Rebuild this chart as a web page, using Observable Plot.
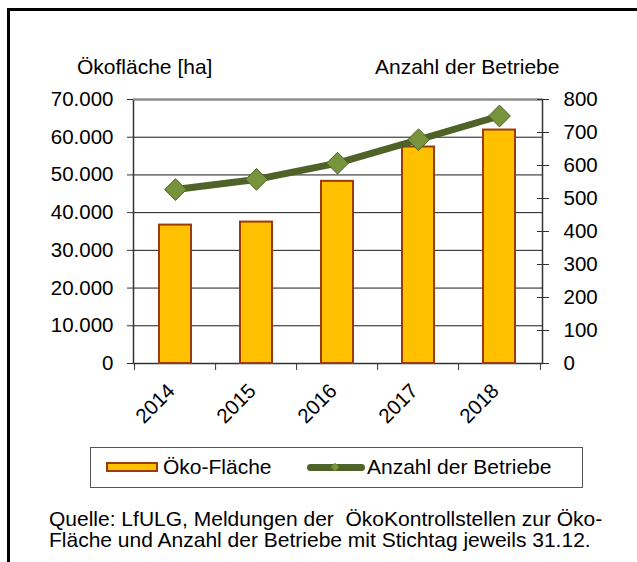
<!DOCTYPE html>
<html>
<head>
<meta charset="utf-8">
<script src="https://cdn.jsdelivr.net/npm/d3@7"></script>
<script src="https://cdn.jsdelivr.net/npm/@observablehq/plot@0.6"></script>
<style>
  html, body { margin: 0; padding: 0; background: #fff; }
  body { font-family: "Liberation Sans", Arial, sans-serif; }
  #wrap { position: relative; width: 637px; height: 562px; overflow: hidden; background: #fff; }
  #frame { position: absolute; left: 7px; top: 8px; width: 700px; height: 700px;
           border-top: 3px solid #000; border-left: 3px solid #000; }
  #chart { position: absolute; left: 0; top: 0; }
  .t { position: absolute; font-size: 21px; line-height: 21px; color: #000; white-space: pre; }
  #legend { position: absolute; left: 90px; top: 447px; width: 491px; height: 39px; border: 1px solid #555; }
  .sw-bar { position: absolute; left: 106px; top: 462px; width: 48px; height: 6px;
            background: #FFC000; border: 2px solid #9C3B0A; }
  .sw-line { position: absolute; left: 307px; top: 464px; width: 58px; height: 7px;
             background: #4F6228; border-radius: 3.5px; }
  .sw-dot { position: absolute; left: 332px; top: 464px; width: 6px; height: 6px;
            background: #77933C; transform: rotate(45deg); }
</style>
</head>
<body>
<div id="wrap">
  <div id="frame"></div>
  <div id="chart"></div>
  <div class="t" id="tLeft" style="left:77px; top:56px;"></div>
  <div class="t" id="tRight" style="left:375px; top:56px;"></div>
  <div id="legend"></div>
  <div class="sw-bar"></div>
  <div class="t" id="lg1" style="left:163px; top:456px;"></div>
  <div class="sw-line"></div>
  <div class="sw-dot"></div>
  <div class="t" id="lg2" style="left:367px; top:456px;"></div>
  <div class="t" id="cap" style="left:49px; top:508px;"></div>
</div>
<script>
// ---- data ----
const years = ["2014", "2015", "2016", "2017", "2018"];
const oekoFlaeche = [36700, 37500, 48300, 57400, 61900];   // ha
const anzahlBetriebe = [527, 558, 607, 678, 750];
const leftTicks = [0, 10000, 20000, 30000, 40000, 50000, 60000, 70000];
const rightTicks = [0, 100, 200, 300, 400, 500, 600, 700, 800];
const titleLeft = "Ökofläche [ha]";
const titleRight = "Anzahl der Betriebe";
const legendLabels = ["Öko-Fläche", "Anzahl der Betriebe"];
const captionLines = [
  "Quelle: LfULG, Meldungen der  ÖkoKontrollstellen zur Öko-",
  "Fläche und Anzahl der Betriebe mit Stichtag jeweils 31.12."
];

// ---- build ----
const leftMax = leftTicks[leftTicks.length - 1];
const rightMax = rightTicks[rightTicks.length - 1];
const k = leftMax / rightMax; // maps right-axis values onto the left y scale

const data = years.map((year, i) => ({year, area: oekoFlaeche[i], count: anzahlBetriebe[i]}));

const de = d3.formatLocale({decimal: ",", thousands: ".", grouping: [3], currency: ["", " €"]});
const fmtDE = de.format(",.0f");

const W = 637, H = 440;
const mL = 133, mR = 95, mT = 99, mB = H - 363;
const step = (W - mL - mR) / years.length;

const chart = Plot.plot({
  width: W,
  height: H,
  marginLeft: mL,
  marginRight: mR,
  marginTop: mT,
  marginBottom: mB,
  style: {fontFamily: "'Liberation Sans', Arial, sans-serif", fontSize: "20.5px", color: "#000", background: "transparent", overflow: "visible"},
  x: {domain: years, paddingInner: 0.6, paddingOuter: 0.3, axis: null},
  y: {domain: [0, leftMax], axis: null},
  marks: [
    Plot.ruleY(leftTicks.filter(d => d > 0 && d < leftMax), {stroke: "#1a1a1a", strokeWidth: 1}),
    Plot.frame({stroke: "#333", strokeWidth: 1.5}),
    Plot.ruleY([leftMax], {stroke: "#8c8c8c", strokeWidth: 2}),
    Plot.barY(data, {x: "year", y: "area", fill: "#FFC000", stroke: "#9C3B0A", strokeWidth: 2}),
    // left axis
    Plot.axisY(leftTicks, {anchor: "left", label: null, tickSize: 6, tickPadding: 14, tickFormat: fmtDE, stroke: "#333"}),
    // right axis (cross ticks)
    Plot.axisY(rightTicks.map(v => v * k), {anchor: "right", label: null, tickSize: 6, tickPadding: 15, tickFormat: d => String(Math.round(d / k)), stroke: "#333"}),
    Plot.axisY(rightTicks.map(v => v * k), {anchor: "right", label: null, tickSize: 6, dx: -6, tickFormat: () => "", stroke: "#333"}),
    // x axis boundary ticks
    Plot.axisX(years, {anchor: "bottom", label: null, tickSize: 7, dx: -step / 2, tickFormat: () => "", stroke: "#333"}),
    Plot.axisX([years[years.length - 1]], {anchor: "bottom", label: null, tickSize: 7, dx: step / 2, tickFormat: () => "", stroke: "#333"}),
    // x labels
    Plot.axisX(years, {anchor: "bottom", label: null, tickSize: 0, tickPadding: 14, tickRotate: -45, dx: -4, dy: 10}),
    // line + markers
    Plot.line(data, {x: "year", y: d => d.count * k, stroke: "#4F6228", strokeWidth: 7}),
    Plot.dot(data, {x: "year", y: d => d.count * k, symbol: "diamond2", r: 9.8, fill: "#77933C", stroke: "#4F6228", strokeWidth: 1})
  ]
});
document.getElementById("chart").appendChild(chart);

document.getElementById("tLeft").textContent = titleLeft;
document.getElementById("tRight").textContent = titleRight;
document.getElementById("lg1").textContent = legendLabels[0];
document.getElementById("lg2").textContent = legendLabels[1];
document.getElementById("cap").textContent = captionLines.join("\n");
</script>
</body>
</html>
